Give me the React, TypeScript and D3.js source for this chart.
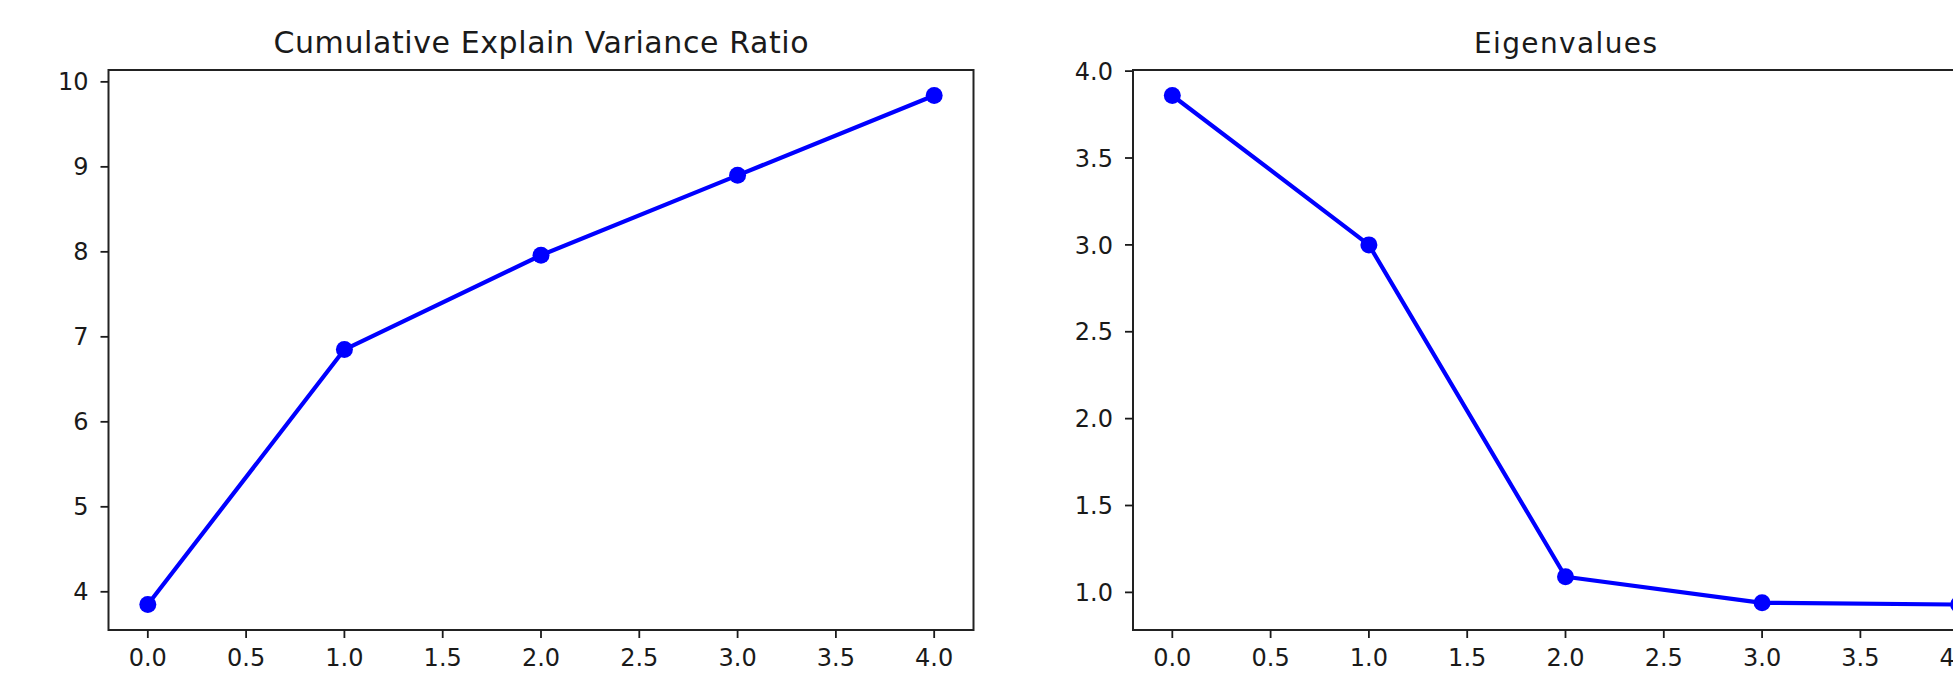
import React from "react";
import * as d3 from "d3";

const components = [0, 1, 2, 3, 4];
const cumulativeVariance = [3.85, 6.85, 7.96, 8.9, 9.84];
const eigenvalues = [3.86, 3.0, 1.09, 0.94, 0.93];
const xTicks = [0, 0.5, 1, 1.5, 2, 2.5, 3, 3.5, 4];
const leftYTicks = [4, 5, 6, 7, 8, 9, 10];
const rightYTicks = [1.0, 1.5, 2.0, 2.5, 3.0, 3.5, 4.0];
const titles = ["Cumulative Explain Variance Ratio", "Eigenvalues"];

const W = 1953;
const H = 677;
const FONT = "'DejaVu Sans', sans-serif";
const TOP = 70;
const BOTTOM = 630;

function Panel({ x0, x1, values, yTicks, yFmt, title, titleWidth, titleSize }: any) {
  const xs = d3.scaleLinear().domain([-0.2, 4.2]).range([x0, x1]);
  const [mn, mx] = d3.extent(values) as [number, number];
  const m = (mx - mn) * 0.05;
  const ys = d3.scaleLinear().domain([mn - m, mx + m]).range([BOTTOM, TOP]);
  const line = d3
    .line<number>()
    .x((_, i) => xs(components[i]))
    .y((d) => ys(d));
  const tc = "#1a1a1a";
  return (
    <g>
      <path d={line(values) || ""} fill="none" stroke="#0000ff" strokeWidth={4.2} strokeLinejoin="round" />
      {values.map((v: number, i: number) => (
        <circle key={i} cx={xs(components[i])} cy={ys(v)} r={8.5} fill="#0000ff" />
      ))}
      <rect x={x0} y={TOP} width={x1 - x0} height={BOTTOM - TOP} fill="none" stroke="#222" strokeWidth={2} />
      {xTicks.map((t) => (
        <g key={"x" + t}>
          <line x1={xs(t)} x2={xs(t)} y1={BOTTOM} y2={BOTTOM + 8} stroke={tc} strokeWidth={1.8} />
          <text x={xs(t)} y={666} textAnchor="middle" fontFamily={FONT} fontSize={24} fill={tc}>
            {t.toFixed(1)}
          </text>
        </g>
      ))}
      {yTicks.map((t: number) => (
        <g key={"y" + t}>
          <line x1={x0 - 8} x2={x0} y1={ys(t)} y2={ys(t)} stroke={tc} strokeWidth={1.8} />
          <text x={x0 - 20} y={ys(t)} dy="0.36em" textAnchor="end" fontFamily={FONT} fontSize={24} fill={tc}>
            {yFmt(t)}
          </text>
        </g>
      ))}
      <text
        x={(x0 + x1) / 2}
        y={53}
        textAnchor="middle"
        fontFamily={FONT}
        fontSize={titleSize}
        fill={tc}
        textLength={titleWidth}
        lengthAdjust="spacing"
      >
        {title}
      </text>
    </g>
  );
}

export default function App() {
  return (
    <svg width={W} height={H} style={{ position: "absolute", left: 0, top: 0, background: "#fff" }}>
      <rect x={0} y={0} width={W} height={H} fill="#fff" />
      <Panel x0={108.5} x1={973.5} values={cumulativeVariance} yTicks={leftYTicks} yFmt={(t: number) => String(t)} title={titles[0]} titleWidth={535} titleSize={30} />
      <Panel x0={1133} x1={1998} values={eigenvalues} yTicks={rightYTicks} yFmt={(t: number) => t.toFixed(1)} title={titles[1]} titleWidth={183} titleSize={28} />
    </svg>
  );
}
